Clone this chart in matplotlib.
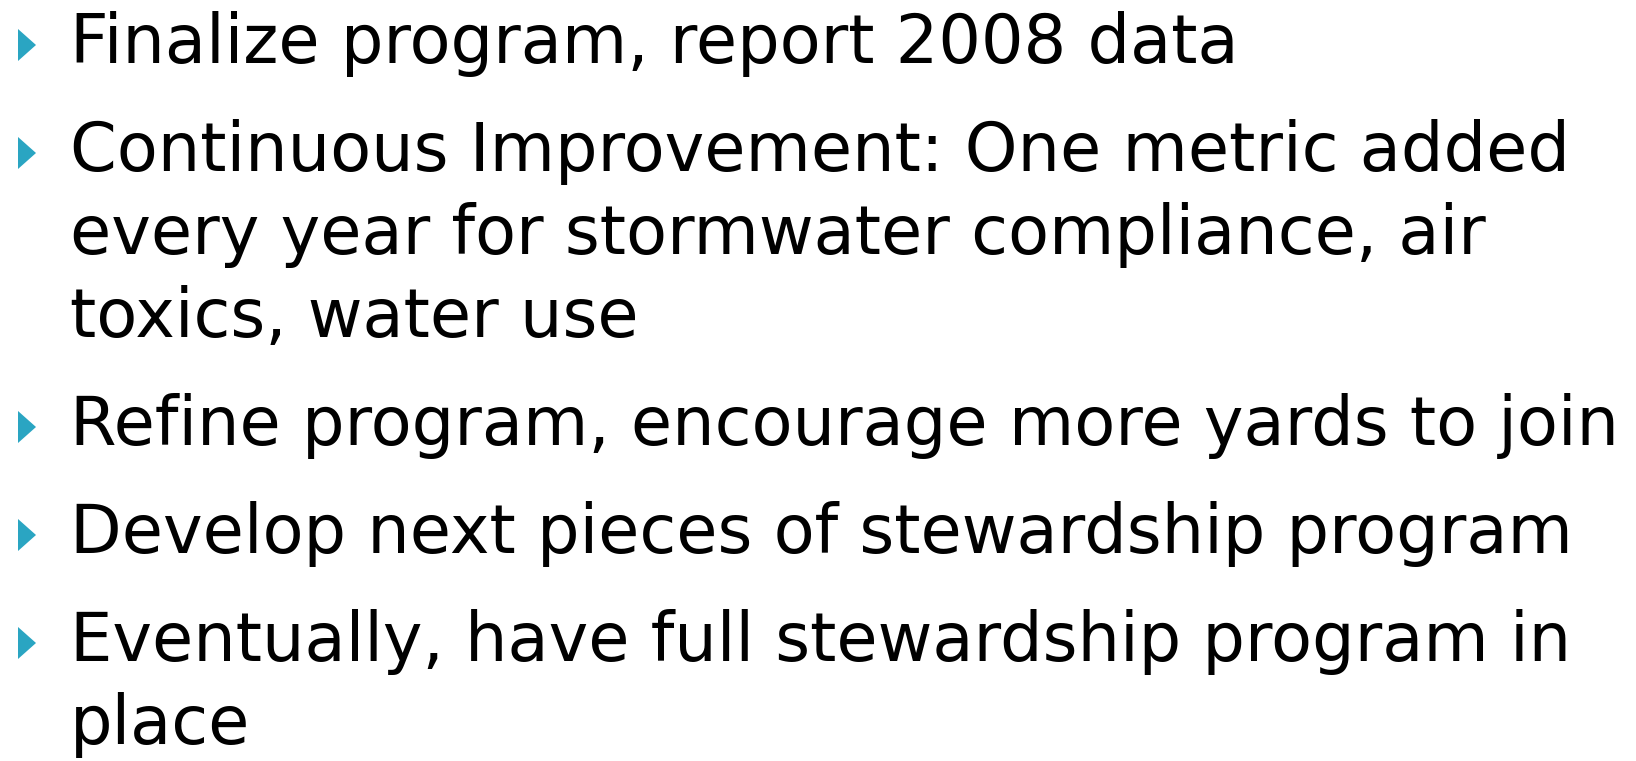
import matplotlib
matplotlib.use("Agg")
import matplotlib.pyplot as plt
from matplotlib.patches import Polygon

# slide text: one entry per bullet, wrapped the way the slide wraps it
bullets = [
    ["Finalize program, report 2008 data"],
    ["Continuous Improvement: One metric added",
     "every year for stormwater compliance, air",
     "toxics, water use"],
    ["Refine program, encourage more yards to join"],
    ["Develop next pieces of stewardship program"],
    ["Eventually, have full stewardship program in",
     "place"],
]

W, H = 1636, 761
fig = plt.figure(figsize=(W / 100, H / 100), dpi=100)
ax = fig.add_axes([0, 0, 1, 1])
ax.set_xlim(0, W)
ax.set_ylim(H, 0)
ax.axis("off")

text_x = 70
first_base = 63
line_gap = 83
para_gap = 108
bullet_color = "#2aa5c2"

# pick a font size so the widest line spans roughly like the slide
target = 1551
probe = ax.text(0, 0, bullets[2][0], fontsize=50, family="DejaVu Sans")
fig.canvas.draw()
w = probe.get_window_extent().width
probe.remove()
size = 50 * target / w

y = first_base
for lines in bullets:
    tri = Polygon([[18, y - 34], [36, y - 18], [18, y - 2]],
                  closed=True, color=bullet_color, lw=0)
    ax.add_patch(tri)
    for i, line in enumerate(lines):
        ax.text(text_x, y, line, fontsize=size, family="DejaVu Sans",
                va="baseline", ha="left", color="black")
        if i < len(lines) - 1:
            y += line_gap
    y += para_gap

fig.savefig("out.png", dpi=100)
